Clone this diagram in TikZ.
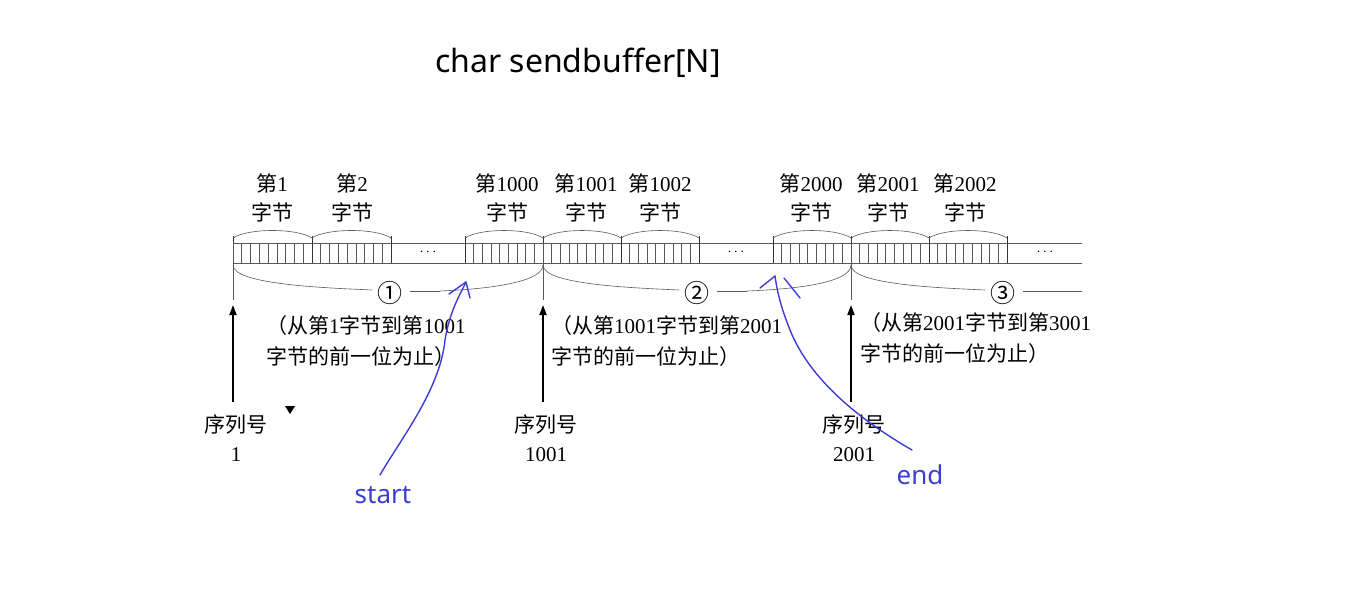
\documentclass[tikz,border=0pt]{standalone}
\usepackage{fontspec}
\setmainfont{Liberation Serif}
\newfontfamily\cjk{Noto Sans CJK SC}
\newfontfamily\ui{Noto Sans}
\usetikzlibrary{arrows.meta}
\definecolor{hb}{RGB}{60,60,215}
\begin{document}
\begin{tikzpicture}[x=1pt,y=-1pt,
  lab/.style={font=\cjk\fontsize{21}{25}\selectfont,align=center,inner sep=0pt},
  blk/.style={line width=0.9pt,black!80},
  thin/.style={line width=0.6pt,black!65},
  up/.style={line width=1.8pt,-{Triangle[length=10pt,width=7pt]}},
  hand/.style={line width=1.4pt,hb,line cap=round},
  blue/.style={font=\ui\fontsize{26}{30}\selectfont,text=hb}]
\useasboundingbox (0,0) rectangle (1371,589);
\node[font=\ui\fontsize{32}{36}\selectfont] (title) at (578,63) {char sendbuffer[N]};
% strip lines
\draw[thin] (233,243) -- (1082,243) (233,263) -- (1082,263);
% bytes
\foreach \a/\b in {233/312,312/391,465/543,543/621,621/699,773/851,851/929,929/1007}{
  \draw[blk] (\a,236) -- (\a,263) (\b,236) -- (\b,263);
  \foreach \i in {1,...,8} \draw[thin] ({\a+\i*(\b-\a)/9},243) -- ({\a+\i*(\b-\a)/9},263);
  \draw[thin] (\a,238) .. controls ({\a+15},228) and ({\b-15},228) .. (\b,238);
}
\foreach \x/\n in {428/d1,736/d2,1045/d3} \node[font=\fontsize{14}{14}\selectfont] (\n) at (\x,252) {$\cdots$};
% byte labels
\foreach \x/\t/\n in {272/1/l1,352/2/l2,507/1000/l3,586/1001/l4,660/1002/l5,811/2000/l6,888/2001/l7,965/2002/l8}
  \node[lab] (\n) at (\x,198) {第{\fontspec{Liberation Serif}\t}\\[4pt]字节};
% brace ticks
\foreach \x in {233,543,851} \draw[thin] (\x,243) -- (\x,300);
% segment braces
\foreach \a/\b/\m/\c/\n in {233/543/390/①/c1,543/851/697/②/c2,851/1160/1003/③/c3}{
  \node[lab,font=\cjk\fontsize{25}{28}\selectfont] (\n) at (\m,293) {\c};
  \draw[thin] (\a,265) .. controls (\a,285) and ({\m-60},288) .. ({\m-18},290);
  \draw[thin] ({\m+20},291) -- ({\m+50},291);
}
\draw[thin] (440,291) .. controls (490,289) and (543,282) .. (543,265);
\draw[thin] (747,291) .. controls (800,289) and (851,282) .. (851,265);
\draw[thin] (1053,291) -- (1082,291);
% texts
\node[lab,anchor=west,align=left] (t1) at (266,341) {（从第{\fontspec{Liberation Serif}1}字节到第{\fontspec{Liberation Serif}1001}\\[6pt]字节的前一位为止）};
\node[lab,anchor=west,align=left] (t2) at (551,341) {（从第{\fontspec{Liberation Serif}1001}字节到第{\fontspec{Liberation Serif}2001}\\[6pt]字节的前一位为止）};
\node[lab,anchor=west,align=left] (t3) at (860,338) {（从第{\fontspec{Liberation Serif}2001}字节到第{\fontspec{Liberation Serif}3001}\\[6pt]字节的前一位为止）};
% sequence numbers
\node[lab] (s1) at (236,438) {序列号\\[4pt]{\fontspec{Liberation Serif}1}};
\fill (285,406) -- (295,406) -- (290,414) -- cycle;
\node[lab] (s2) at (546,438) {序列号\\[4pt]{\fontspec{Liberation Serif}1001}};
\node[lab] (s3) at (854,438) {序列号\\[4pt]{\fontspec{Liberation Serif}2001}};
\coordinate (p1) at (233,305); \coordinate (p2) at (543,305); \coordinate (p3) at (851,305);
\draw[up] (233,402) -- (p1);
\draw[up] (543,402) -- (p2);
\draw[up] (851,402) -- (p3);
% handwriting
\node[blue] (start) at (383,495) {start};
\node[blue] (end) at (920,475) {end};
\coordinate (sa) at (466,282);
\draw[hand] (380,475) .. controls (400,440) and (440,390) .. (445,340) .. controls (450,310) and (460,295) .. (sa);
\draw[hand] (sa) -- (449,294) (sa) -- (470,298);
\coordinate (ea) at (775,276);
\draw[hand] (912,450) .. controls (860,420) and (810,380) .. (790,330) .. controls (780,305) and (777,290) .. (ea);
\draw[hand] (ea) -- (760,288);
\draw[hand] (784,278) -- (800,298);
\end{tikzpicture}
\end{document}
